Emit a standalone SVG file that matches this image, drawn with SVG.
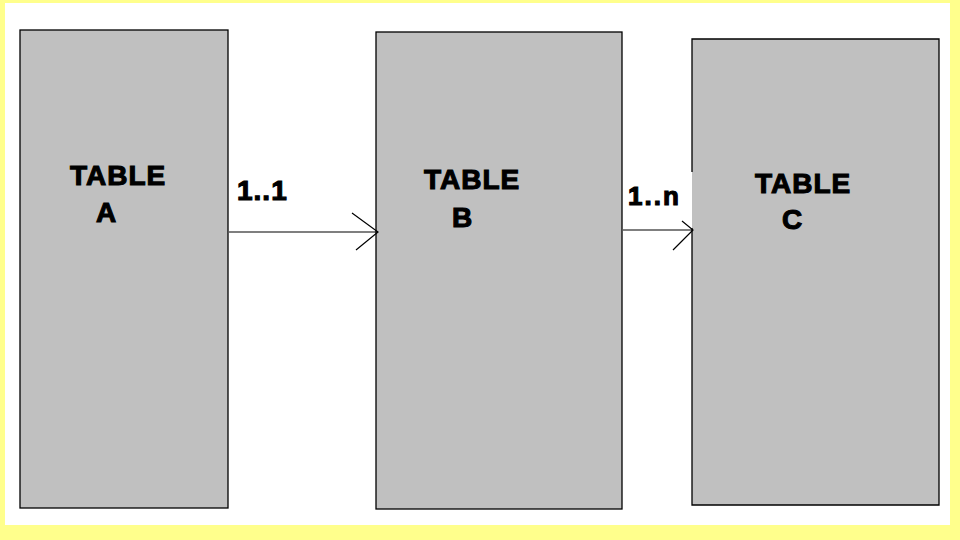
<svg xmlns="http://www.w3.org/2000/svg" width="960" height="540" viewBox="0 0 960 540">
  <style>
    .box { fill: #C0C0C0; }
    .edge { fill: none; stroke: #000000; stroke-width: 1.3; }
    .conn { fill: none; stroke: #000000; stroke-width: 1.2; }
    .lbl { font-family: "Liberation Sans", Arial, sans-serif; font-weight: bold; font-size: 28px; fill: #000000; stroke: #000000; stroke-width: 1.1px; letter-spacing: 1px; }
  </style>
  <rect x="0" y="0" width="960" height="540" fill="#FFFF8C"/>
  <rect x="5" y="3" width="945" height="522" fill="#FFFFFF"/>

  <g id="tableA">
    <rect class="box" x="20" y="30" width="208" height="478"/>
    <rect class="edge" x="20" y="30" width="208" height="478"/>
    <text class="lbl" x="70" y="185">TABLE</text>
    <text class="lbl" x="96" y="222">A</text>
  </g>

  <g id="tableB">
    <rect class="box" x="376" y="32" width="246" height="477"/>
    <rect class="edge" x="376" y="32" width="246" height="477"/>
    <text class="lbl" x="424" y="189">TABLE</text>
    <text class="lbl" x="452" y="227">B</text>
  </g>

  <g id="tableC">
    <rect class="box" x="692" y="39" width="247" height="466"/>
    <path class="edge" d="M692,172 L692,39 L939,39 L939,505 L692,505 L692,228"/>
    <text class="lbl" x="755" y="193">TABLE</text>
    <text class="lbl" x="782" y="229">C</text>
  </g>

  <g id="connectors">
    <g id="edgeAB">
      <path class="conn" d="M229,232 L378,232"/>
      <path class="conn" d="M352,213 L378,232 L356,250"/>
      <text class="lbl" x="237" y="200">1..1</text>
    </g>
    <g id="edgeBC">
      <path class="conn" d="M623,230 L693,230"/>
      <path class="conn" d="M682,221 L693,230 L673,250"/>
      <text class="lbl" x="628" y="205" style="font-size:26px;letter-spacing:2px">1..n</text>
    </g>
  </g>
</svg>
